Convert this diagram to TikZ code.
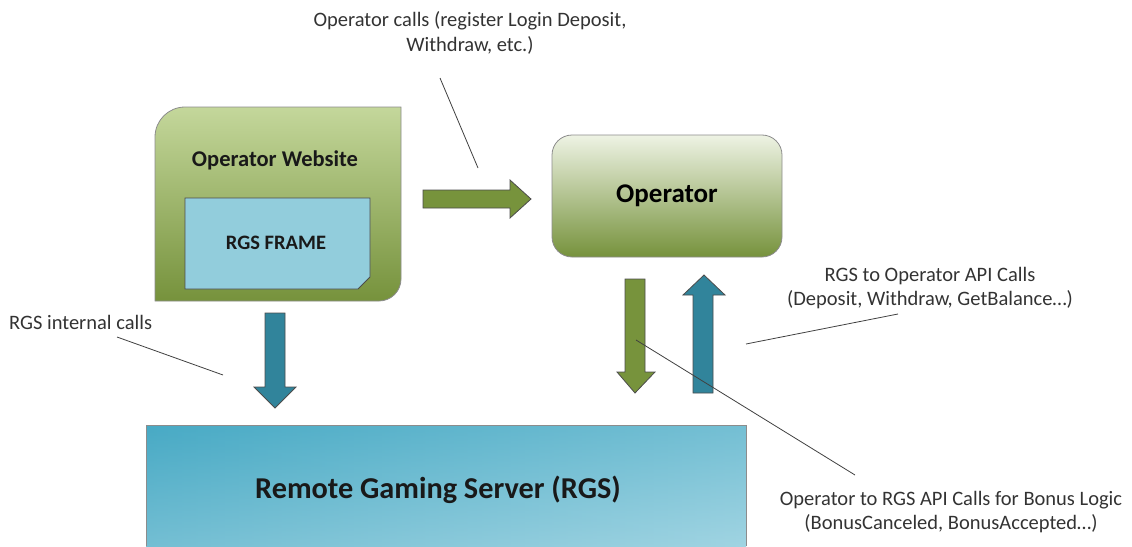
\documentclass[tikz,border=0pt]{standalone}
\usepackage{fontspec}
\setmainfont{Carlito}
\begin{document}
\begin{tikzpicture}[x=1pt,y=-1pt,
  lbl/.style={text=black!80,font=\fontsize{20.5}{24.5}\selectfont,align=center,inner sep=0pt},
  callout/.style={draw=black!75,line width=0.8pt},
  garrow/.style={draw=black!70,line width=0.8pt,fill={rgb,255:red,119;green,147;blue,60}},
  barrow/.style={draw=black!70,line width=0.8pt,fill={rgb,255:red,49;green,132;blue,155}},
  title/.style={font=\bfseries\fontsize{22.5}{26}\selectfont,text=black!90,inner sep=0pt}]
\useasboundingbox (0,0) rectangle (1132,546);
\definecolor{gtop}{RGB}{196,215,155}
\definecolor{gbot}{RGB}{118,146,60}
\definecolor{otop}{RGB}{238,243,228}
\definecolor{obot}{RGB}{118,146,60}
\definecolor{bdark}{RGB}{72,170,197}
\definecolor{blight}{RGB}{160,212,226}
\definecolor{frame}{RGB}{146,205,220}
% Operator Website
\path[draw=black!45,line width=0.8pt,top color=gtop,bottom color=gbot]
  (155,301) [rounded corners=30] -- (155,107) [sharp corners] -- (401,107)
  [rounded corners=22] -- (401,301) [sharp corners] -- cycle;
\node[title] (web) at (275,160) {Operator Website};
% RGS frame
\path[draw=black!70,line width=0.8pt,fill=frame]
  (185,198) -- (370,198) -- (370,277) -- (358,289) -- (185,289) -- cycle;
\node[title,font=\bfseries\fontsize{20.5}{24}\selectfont] (frame) at (276,243) {RGS FRAME};
% Operator
\node[draw=black!45,line width=0.8pt,rounded corners=20,top color=otop,bottom color=obot,
  minimum width=230,minimum height=122,font=\bfseries\fontsize{27}{32}\selectfont] (op) at (667,196) {Operator};
% RGS box
\shade[top color=bdark,bottom color=blight] (146,425) rectangle (746,546);
\shade[left color=bdark,right color=blight,opacity=0.5] (146,425) rectangle (746,546);
\draw[black!45,line width=0.8pt] (146,546) -- (146,425) -- (746,425) -- (746,546);
\node[title,font=\bfseries\fontsize{30.3}{36}\selectfont] (rgs) at (438,490) {Remote Gaming Server (RGS)};
% block arrows
\draw[garrow] (423,190) -- (510,190) -- (510,180) -- (531,199) -- (510,218) -- (510,208) -- (423,208) -- cycle;
\draw[garrow] (625,279) -- (645,279) -- (645,372) -- (655,372) -- (635,393) -- (617,372) -- (625,372) -- cycle;
\draw[barrow] (693,393) -- (693,295) -- (683,295) -- (704,275) -- (725,295) -- (713,295) -- (713,393) -- cycle;
\draw[barrow] (265,313) -- (285,313) -- (285,387) -- (296,387) -- (275,408) -- (254,387) -- (265,387) -- cycle;
% labels
\node[lbl] (l1) at (470,33) {Operator calls (register Login Deposit,\\Withdraw, etc.)};
\node[lbl] (l2) at (930,288) {RGS to Operator API Calls\\(Deposit, Withdraw, GetBalance\dots)};
\node[lbl,anchor=west] (l3) at (9,322) {RGS internal calls};
\node[lbl] (l4) at (951,512) {Operator to RGS API Calls for Bonus Logic\\(BonusCanceled, BonusAccepted\dots)};
\coordinate (c1a) at (440,78); \coordinate (c1b) at (478,168);
\coordinate (c2a) at (898,314); \coordinate (c2b) at (746,344);
\coordinate (c3a) at (117,337); \coordinate (c3b) at (223,375);
\coordinate (c4a) at (855,475); \coordinate (c4b) at (636,340);
\draw[callout] (c1a) -- (c1b);
\draw[callout] (c2a) -- (c2b);
\draw[callout] (c3a) -- (c3b);
\draw[callout] (c4a) -- (c4b);
\end{tikzpicture}
\end{document}
